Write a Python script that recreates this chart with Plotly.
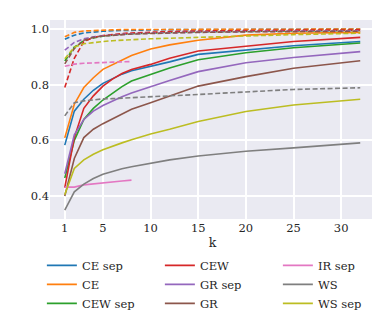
import plotly.graph_objects as go

k = [1, 2, 3, 4, 5, 6, 7, 8, 10, 12, 15, 20, 25, 32]
k_ir = [1, 2, 3, 4, 5, 6, 7, 8]

# solid lines
ce_sep = [0.583, 0.705, 0.748, 0.78, 0.805, 0.822, 0.838, 0.85, 0.865, 0.882, 0.909, 0.925, 0.94, 0.955]
ce = [0.609, 0.73, 0.79, 0.825, 0.855, 0.872, 0.89, 0.905, 0.928, 0.943, 0.96, 0.978, 0.985, 0.988]
cew_sep = [0.465, 0.6, 0.675, 0.715, 0.745, 0.77, 0.793, 0.813, 0.837, 0.86, 0.89, 0.915, 0.933, 0.95]
cew = [0.43, 0.61, 0.715, 0.76, 0.795, 0.82, 0.84, 0.855, 0.873, 0.895, 0.921, 0.939, 0.955, 0.97]
gr_sep = [0.48, 0.62, 0.675, 0.705, 0.725, 0.742, 0.757, 0.77, 0.793, 0.815, 0.847, 0.879, 0.898, 0.919]
gr = [0.40, 0.535, 0.61, 0.64, 0.66, 0.677, 0.694, 0.712, 0.735, 0.758, 0.795, 0.829, 0.859, 0.886]
ir_sep = [0.432, 0.432, 0.44, 0.444, 0.448, 0.451, 0.454, 0.457]
ws = [0.349, 0.415, 0.443, 0.463, 0.478, 0.489, 0.498, 0.505, 0.518, 0.53, 0.544, 0.561, 0.573, 0.591]
ws_sep = [0.405, 0.499, 0.53, 0.55, 0.566, 0.579, 0.591, 0.602, 0.623, 0.64, 0.668, 0.704, 0.727, 0.748]

# dashed lines
ce_sep_d = [0.963, 0.978, 0.986, 0.99, 0.992, 0.994, 0.995, 0.996, 0.997, 0.998, 0.998, 0.999, 0.999, 1.0]
ce_d = [0.972, 0.988, 0.993, 0.995, 0.996, 0.997, 0.998, 0.998, 0.999, 0.999, 1.0, 1.0, 1.0, 1.0]
cew_sep_d = [0.885, 0.935, 0.958, 0.968, 0.974, 0.978, 0.981, 0.983, 0.986, 0.988, 0.99, 0.992, 0.994, 0.995]
cew_d = [0.79, 0.895, 0.955, 0.97, 0.977, 0.981, 0.984, 0.986, 0.989, 0.991, 0.993, 0.995, 0.996, 0.997]
gr_sep_d = [0.924, 0.952, 0.965, 0.972, 0.976, 0.979, 0.981, 0.983, 0.985, 0.987, 0.989, 0.991, 0.993, 0.994]
gr_d = [0.875, 0.93, 0.96, 0.97, 0.975, 0.978, 0.98, 0.982, 0.984, 0.986, 0.988, 0.99, 0.991, 0.992]
ir_sep_d = [0.866, 0.874, 0.877, 0.879, 0.88, 0.881, 0.882, 0.883]
ws_d = [0.688, 0.735, 0.742, 0.746, 0.749, 0.75, 0.752, 0.753, 0.757, 0.76, 0.765, 0.775, 0.783, 0.789]
ws_sep_d = [0.893, 0.935, 0.947, 0.952, 0.955, 0.958, 0.96, 0.962, 0.965, 0.967, 0.969, 0.975, 0.98, 0.985]

series = [
    ("CE sep", "#1f77b4", k, ce_sep, ce_sep_d),
    ("CE", "#ff7f0e", k, ce, ce_d),
    ("CEW sep", "#2ca02c", k, cew_sep, cew_sep_d),
    ("CEW", "#d62728", k, cew, cew_d),
    ("GR sep", "#9467bd", k, gr_sep, gr_sep_d),
    ("GR", "#8c564b", k, gr, gr_d),
    ("IR sep", "#e377c2", k_ir, ir_sep, ir_sep_d),
    ("WS", "#7f7f7f", k, ws, ws_d),
    ("WS sep", "#bcbd22", k, ws_sep, ws_sep_d),
]

# legend is filled row by row, reference reads column by column
rank = {0: 1, 3: 2, 6: 3, 1: 4, 4: 5, 7: 6, 2: 7, 5: 8, 8: 9}

fig = go.Figure()
for i, (name, col, xs, solid, dashed) in enumerate(series):
    fig.add_trace(go.Scatter(x=xs, y=solid, name=name, mode="lines",
                             line=dict(color=col, width=1.6),
                             legendrank=rank[i]))
for i, (name, col, xs, solid, dashed) in enumerate(series):
    fig.add_trace(go.Scatter(x=xs, y=dashed, name=name, mode="lines",
                             line=dict(color=col, width=1.6, dash="5px,2.5px"),
                             showlegend=False))

font = "DejaVu Serif"
fig.update_layout(
    width=380, height=326,
    margin=dict(l=42, r=13, t=12, b=115, autoexpand=False),
    paper_bgcolor="white",
    plot_bgcolor="#EAEAF2",
    font=dict(family=font, size=11.5, color="#262626"),
    legend=dict(orientation="h", x=-0.025, xanchor="left", y=-0.16, yanchor="top",
                entrywidth=73, entrywidthmode="pixels",
                font=dict(size=11.5), bgcolor="rgba(0,0,0,0)",
                itemwidth=30, tracegroupgap=0),
)
fig.update_xaxes(range=[-0.55, 33.55], tickvals=[1, 5, 10, 15, 20, 25, 30],
                 showgrid=True, gridcolor="white", gridwidth=1.5,
                 zeroline=False, showline=False, ticks="",
                 title=dict(text="k", font=dict(size=12.5), standoff=4))
fig.update_yaxes(range=[0.3175, 1.0325], tickvals=[0.4, 0.6, 0.8, 1.0],
                 ticktext=["0.4", "0.6", "0.8", "1.0"],
                 showgrid=True, gridcolor="white", gridwidth=1.5,
                 zeroline=False, showline=False, ticks="")

fig.write_html("out.html")
